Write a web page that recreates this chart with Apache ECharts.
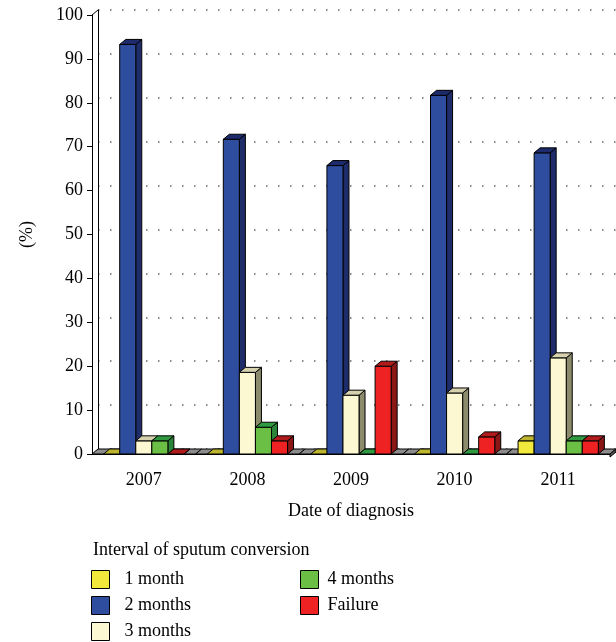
<!DOCTYPE html>
<html>
<head>
<meta charset="utf-8">
<script src="https://cdn.jsdelivr.net/npm/echarts@6/dist/echarts.min.js"></script>
<style>
  html, body { margin: 0; padding: 0; background: #fff; }
  #main { width: 616px; height: 642px; }
</style>
</head>
<body>
<div id="main"></div>
<script>
var years = ['2007', '2008', '2009', '2010', '2011'];
var seriesNames = ['1 month', '2 months', '3 months', '4 months', 'Failure'];
var oneMonth   = [0, 0, 0, 0, 3];
var twoMonths  = [93.3, 71.7, 65.7, 81.7, 68.6];
var threeMonths = [3, 18.6, 13.4, 13.9, 21.9];
var fourMonths = [3, 6.1, 0, 0, 3];
var failure    = [0, 3, 20, 3.9, 3];
var yTicks = [0, 10, 20, 30, 40, 50, 60, 70, 80, 90, 100];

var values = [oneMonth, twoMonths, threeMonths, fourMonths, failure];
// front, top, side
var colors = [
  ['#f1e93b', '#bdb52e', '#a09a28'],
  ['#2e4d9e', '#1d2b6c', '#1f2c6a'],
  ['#fcf8d2', '#d6d2ae', '#8c8b6c'],
  ['#6bbf45', '#2f9a40', '#2a8539'],
  ['#ee2222', '#b21b1b', '#8a1616']
];
var DX = 6, DY = -5;
var FONT = 'Liberation Serif';
var FS = 18;

var chart = echarts.init(document.getElementById('main'));

function barRenderer(si) {
  return function (params, api) {
    var ci = api.value(0);
    var v = api.value(1);
    var base = api.coord([ci, 0]);
    var top = api.coord([ci, v]);
    var band = api.size([1, 0])[0];
    var w = band * 0.155;
    var x0 = base[0] + (si - 2.5) * w;
    var x1 = x0 + w;
    var yT = top[1], yB = base[1];
    var c = colors[si];
    var st = { stroke: '#000', lineWidth: 1 };
    return {
      type: 'group',
      children: [
        { type: 'polygon', shape: { points: [[x1, yT], [x1 + DX, yT + DY], [x1 + DX, yB + DY], [x1, yB]] },
          style: Object.assign({ fill: c[2] }, st) },
        { type: 'rect', shape: { x: x0, y: yT, width: w, height: yB - yT },
          style: Object.assign({ fill: c[0] }, st) },
        { type: 'polygon', shape: { points: [[x0, yT], [x1, yT], [x1 + DX, yT + DY], [x0 + DX, yT + DY]] },
          style: Object.assign({ fill: c[1] }, st) }
      ]
    };
  };
}

function floorRenderer(params, api) {
  var ci = api.value(0);
  var base = api.coord([ci, 0]);
  var band = api.size([1, 0])[0];
  var x0 = base[0] - band / 2, x1 = base[0] + band / 2, y = base[1];
  var kids = [
    { type: 'polygon', shape: { points: [[x0, y], [x1, y], [x1 + DX, y + DY], [x0 + DX, y + DY]] },
      style: { fill: '#8c8c8c', stroke: '#000', lineWidth: 1 } }
  ];
  if (ci === years.length - 1) {
    kids.push({ type: 'polygon', shape: { points: [[x1, y], [x1 + DX, y + DY], [x1 + DX, y + DY + 3], [x1, y + 3]] },
      style: { fill: '#555', stroke: '#000', lineWidth: 1 } });
  }
  return { type: 'group', children: kids };
}

var series = [{
  type: 'custom',
  name: 'floor',
  xAxisIndex: 0, yAxisIndex: 0,
  renderItem: floorRenderer,
  data: years.map(function (y, i) { return [i, 0]; }),
  silent: true
}];
seriesNames.forEach(function (name, si) {
  series.push({
    type: 'custom',
    name: name,
    xAxisIndex: 0, yAxisIndex: 0,
    renderItem: barRenderer(si),
    itemStyle: { color: colors[si][0], borderColor: '#000', borderWidth: 1 },
    data: values[si].map(function (v, i) { return [i, v]; })
  });
});

function legendAt(names, left, gap) {
  return {
    data: names,
    orient: 'vertical', left: left, top: 570, height: 72,
    padding: 0,
    itemWidth: 18, itemHeight: 18, itemGap: 7,
    icon: 'rect',
    itemStyle: { borderColor: '#000', borderWidth: 1 },
    textStyle: { fontFamily: FONT, fontSize: FS, color: '#000', padding: [0, 0, 0, gap] }
  };
}

var option = {
  animation: false,
  title: {
    text: 'Interval of sputum conversion',
    left: 93, top: 541, padding: 0,
    textStyle: { fontFamily: FONT, fontSize: FS, fontWeight: 'normal', color: '#000' }
  },
  legend: [legendAt(seriesNames.slice(0, 3), 91, 10), legendAt(seriesNames.slice(3), 300, 4)],
  grid: [
    { left: 92, right: 6, top: 15, bottom: 188 },
    { left: 98, right: 0, top: 10, bottom: 193 }
  ],
  xAxis: [{
    type: 'category', gridIndex: 0, data: years,
    name: 'Date of diagnosis', nameLocation: 'middle', nameGap: 48,
    nameTextStyle: { fontFamily: FONT, fontSize: FS, color: '#000' },
    axisLine: { lineStyle: { color: '#000', width: 1 } },
    axisTick: { length: 10, lineStyle: { color: '#000' } },
    axisLabel: { fontFamily: FONT, fontSize: FS, color: '#000', margin: 17 },
    z: 1
  }, {
    type: 'category', gridIndex: 1, data: years, position: 'top',
    axisLine: { lineStyle: { color: '#000', width: 1 } },
    axisTick: { show: false }, axisLabel: { show: false }
  }],
  yAxis: [{
    type: 'value', gridIndex: 0, min: 0, max: 100, interval: 10,
    name: '(%)', nameLocation: 'middle', nameGap: 56, nameRotate: 90,
    nameTextStyle: { fontFamily: FONT, fontSize: FS, color: '#000' },
    axisLine: { show: true, lineStyle: { color: '#000', width: 1 } },
    axisTick: { show: true, length: 5, lineStyle: { color: '#000' } },
    axisLabel: {
      fontFamily: FONT, fontSize: FS, color: '#000', margin: 9,
      formatter: function (v) { return yTicks.indexOf(v) >= 0 ? String(v) : ''; }
    },
    splitLine: { show: false }
  }, {
    type: 'value', gridIndex: 1, min: 0, max: 100, interval: 10,
    axisLine: { show: true, lineStyle: { color: '#000', width: 1 } },
    axisTick: { show: false }, axisLabel: { show: false },
    splitLine: { show: true, lineStyle: { color: '#666', width: 1.5, type: [1.5, 10.5] } }
  }],
  series: series,
  graphic: [{
    type: 'line', silent: true,
    shape: { x1: 92, y1: 15, x2: 98, y2: 10 },
    style: { stroke: '#000', lineWidth: 1 }
  }]
};
chart.setOption(option);
</script>
</body>
</html>
